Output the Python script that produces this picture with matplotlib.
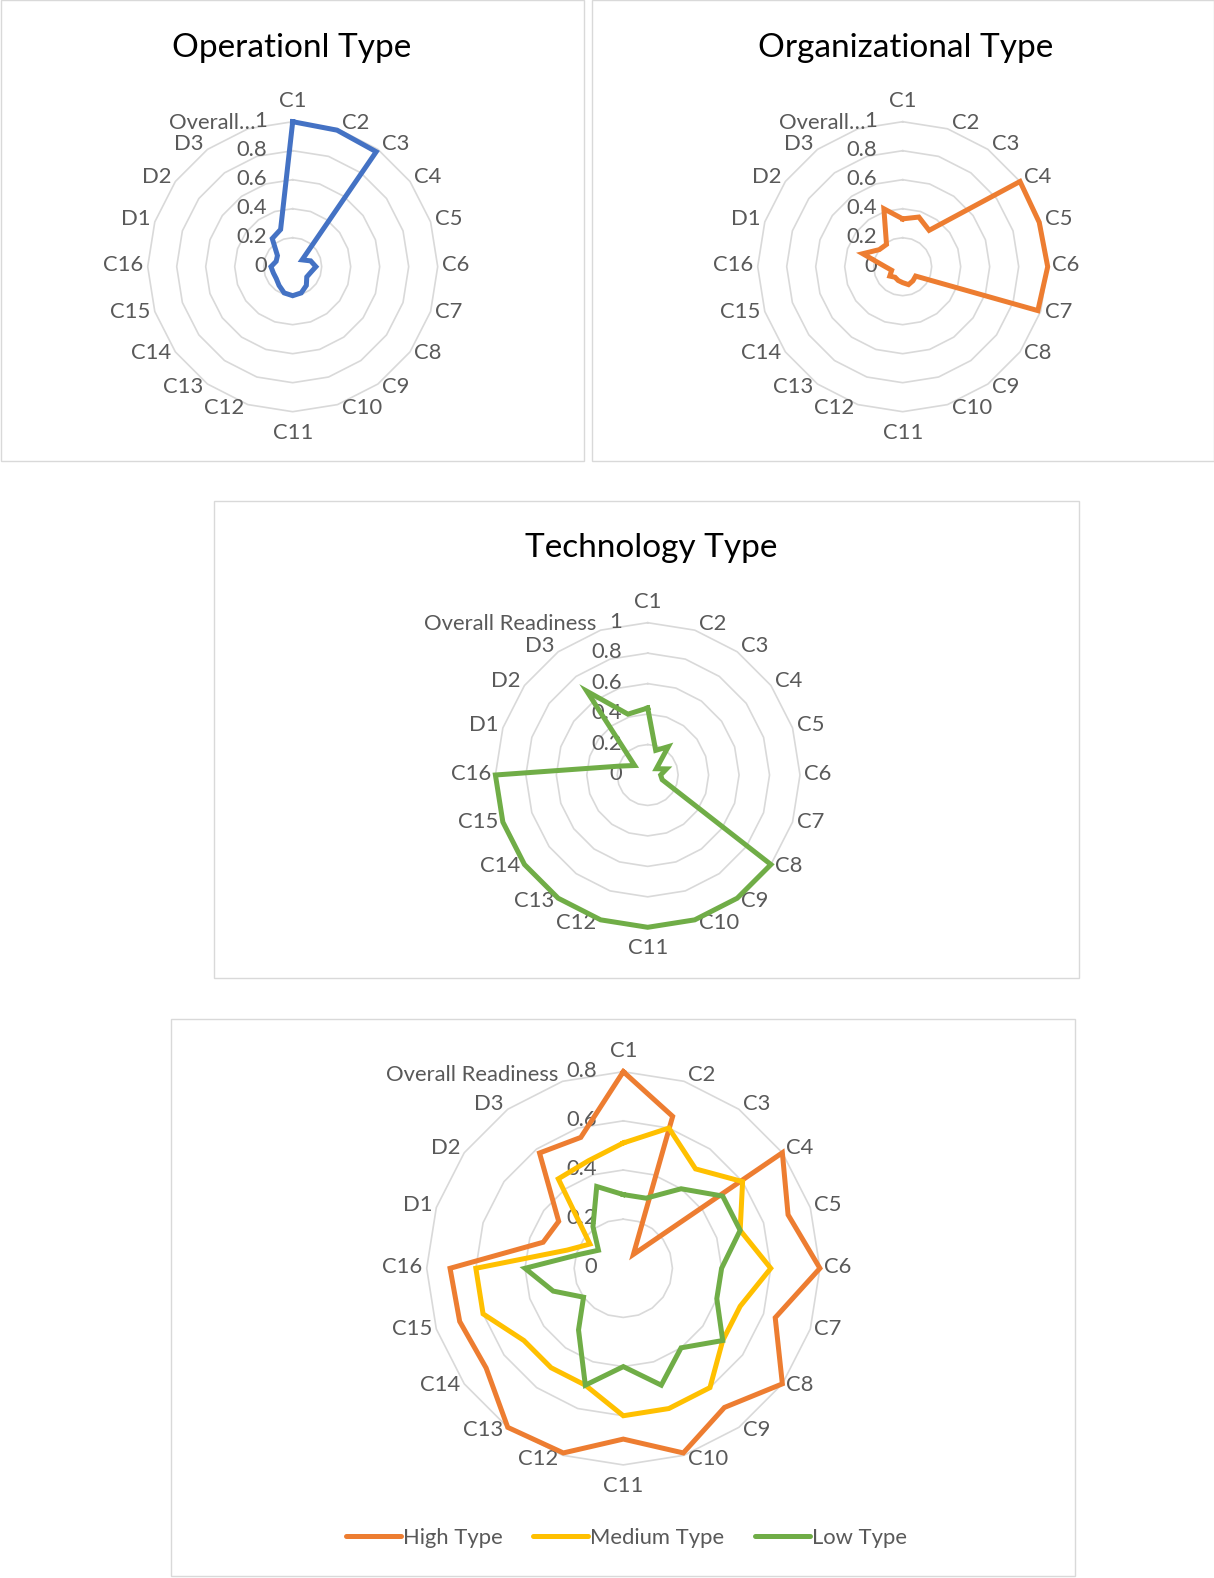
import numpy as np
import matplotlib
matplotlib.use("Agg")
import matplotlib.pyplot as plt
from matplotlib.patches import Rectangle
from matplotlib.lines import Line2D

# axis categories (clockwise from the top)
categories = ['C%d' % i for i in range(1, 17)] + ['D1', 'D2', 'D3', 'Overall Readiness']

# readiness scores per category
operational = [1.00, 0.99, 0.98, 0.08, 0.13, 0.16, 0.13, 0.12, 0.16, 0.19,
               0.20, 0.19, 0.16, 0.14, 0.14, 0.15, 0.12, 0.13, 0.24, 0.27]
organizational = [0.33, 0.36, 0.31, 1.00, 0.99, 1.00, 0.98, 0.11, 0.12, 0.13,
                  0.11, 0.10, 0.09, 0.11, 0.08, 0.12, 0.29, 0.20, 0.19, 0.42]
technology = [0.44, 0.17, 0.23, 0.07, 0.13, 0.085, 0.10, 1.00, 1.00, 1.00,
              1.00, 1.00, 1.00, 1.00, 1.00, 1.00, 0.19, 0.106, 0.68, 0.42]
high_type = [0.80, 0.65, 0.07, 0.80, 0.705, 0.80, 0.65, 0.80, 0.70, 0.79,
             0.695, 0.79, 0.80, 0.69, 0.70, 0.705, 0.343, 0.325, 0.58, 0.56]
medium_type = [0.51, 0.60, 0.50, 0.60, 0.50, 0.60, 0.50, 0.50, 0.60, 0.60,
               0.60, 0.50, 0.50, 0.50, 0.60, 0.60, 0.24, 0.168, 0.45, 0.46]
low_type = [0.30, 0.30, 0.40, 0.50, 0.50, 0.40, 0.40, 0.50, 0.40, 0.50,
            0.40, 0.50, 0.31, 0.20, 0.30, 0.40, 0.185, 0.125, 0.21, 0.35]

ticks_full = [0, 0.2, 0.4, 0.6, 0.8, 1.0]
ticks_combined = [0, 0.2, 0.4, 0.6, 0.8]
tick_text_full = ['0', '0.2', '0.4', '0.6', '0.8', '1']
tick_text_combined = ['0', '0.2', '0.4', '0.6', '0.8']

BLUE, ORANGE, GREEN, GOLD = '#4472C4', '#ED7D31', '#70AD47', '#FFC000'
GRID = '#D9D9D9'
TXT = '#595959'
LABEL_FS = 15.8
TITLE_FS = 24
LINE_W = 3.6

W, H = 1214, 1578
plt.rcParams['font.family'] = ['Lato', 'DejaVu Sans']
fig = plt.figure(figsize=(W / 100, H / 100), dpi=100)


def frame(x0, y0, x1, y1):
    fig.patches.append(Rectangle((x0 / W, 1 - y1 / H), (x1 - x0) / W, (y1 - y0) / H,
                                 transform=fig.transFigure, fill=False,
                                 ec=GRID, lw=1.0))


def radar(cx, cy, radius, ticks, tick_text, series, short_overall=False):
    rmax = ticks[-1]
    ax = fig.add_axes([(cx - radius) / W, 1 - (cy + radius) / H,
                       2 * radius / W, 2 * radius / H], projection='polar')
    ax.set_theta_offset(np.pi / 2)
    ax.set_theta_direction(-1)
    ax.set_ylim(0, rmax)
    ax.axis('off')

    n = len(categories)
    theta = np.arange(n) * 2 * np.pi / n
    closed = np.append(theta, theta[0])

    # polygon gridlines
    for t in ticks[1:]:
        ax.plot(closed, [t] * (n + 1), color=GRID, lw=1.2, zorder=1, clip_on=False)

    for vals, col in series:
        v = np.append(vals, vals[0])
        ax.plot(closed, v, color=col, lw=LINE_W, zorder=3, clip_on=False,
                solid_joinstyle='miter')

    # radial value labels to the left of the vertical axis
    for t, s in zip(ticks, tick_text):
        ax.annotate(s, xy=(0, t), xytext=(-26, 1), textcoords='offset pixels',
                    ha='right', va='center', color=TXT, fontsize=LABEL_FS, zorder=2)

    # category labels around the outer ring
    for i, lab in enumerate(categories):
        s, c = np.sin(theta[i]), np.cos(theta[i])
        if short_overall and lab == 'Overall Readiness':
            lab = 'Overall…'
        if abs(s) < 0.05:
            ha, dx, dy = 'center', 0, 21 * np.sign(c)
        else:
            ha = 'left' if s > 0 else 'right'
            dx = 4 * np.sign(s)
            dy = 1.5 + 5 * c
            if lab == 'Overall…':
                dx += 12
        ax.annotate(lab, xy=(theta[i], rmax), xytext=(dx, dy),
                    textcoords='offset pixels', ha=ha, va='center',
                    color=TXT, fontsize=LABEL_FS, zorder=2, annotation_clip=False)
    return ax


# chart frames
frame(0.5, 0.5, 584, 461)
frame(592, 0.5, 1213.5, 461)
frame(214.4, 501.2, 1079.1, 978.4)
frame(171.1, 1018.6, 1075.1, 1576.4)

radar(292.7, 266.7, 145, ticks_full, tick_text_full, [(operational, BLUE)], short_overall=True)
fig.text(292 / W, 1 - 48 / H, 'Operationl Type', ha='center', va='center',
         fontsize=TITLE_FS, color='black')

radar(902.7, 266.7, 145, ticks_full, tick_text_full, [(organizational, ORANGE)], short_overall=True)
fig.text(906 / W, 1 - 48 / H, 'Organizational Type', ha='center', va='center',
         fontsize=TITLE_FS, color='black')

radar(647.7, 775, 152.3, ticks_full, tick_text_full, [(technology, GREEN)])
fig.text(651 / W, 1 - 548 / H, 'Technology Type', ha='center', va='center',
         fontsize=TITLE_FS, color='black')

radar(623.3, 1268.3, 196.6, ticks_combined, tick_text_combined,
      [(high_type, ORANGE), (medium_type, GOLD), (low_type, GREEN)])

handles = [Line2D([], [], color=ORANGE, lw=LINE_W, solid_capstyle='round'),
           Line2D([], [], color=GOLD, lw=LINE_W, solid_capstyle='round'),
           Line2D([], [], color=GREEN, lw=LINE_W, solid_capstyle='round')]
fig.legend(handles, ['High Type', 'Medium Type', 'Low Type'], loc='center',
           bbox_to_anchor=(626.5 / W, 1 - 1538 / H), ncol=3, frameon=False,
           fontsize=LABEL_FS, labelcolor=TXT, handlelength=2.5,
           handletextpad=0.1, columnspacing=1.4)

fig.savefig('out.png', dpi=100, facecolor='white')
